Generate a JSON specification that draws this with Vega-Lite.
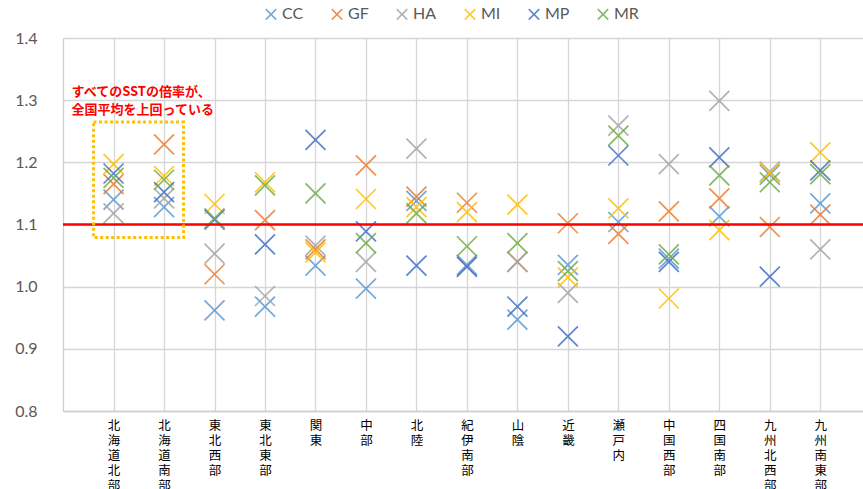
{
  "$schema": "https://vega.github.io/schema/vega-lite/v6.json",
  "width": 800,
  "height": 373,
  "autosize": {"type": "none"},
  "padding": {"left": 63, "top": 38, "right": 0, "bottom": 78},
  "background": "white",
  "config": {"view": {"stroke": null}, "font": "Lato"},
  "datasets": {
    "pts": [
      {"series": "CC", "region": "北海道北部", "v": 1.140},
      {"series": "CC", "region": "北海道南部", "v": 1.128},
      {"series": "CC", "region": "東北西部", "v": 0.962},
      {"series": "CC", "region": "東北東部", "v": 0.968},
      {"series": "CC", "region": "関東", "v": 1.034},
      {"series": "CC", "region": "中部", "v": 0.997},
      {"series": "CC", "region": "北陸", "v": 1.138},
      {"series": "CC", "region": "紀伊南部", "v": 1.035},
      {"series": "CC", "region": "山陰", "v": 0.947},
      {"series": "CC", "region": "近畿", "v": 1.035},
      {"series": "CC", "region": "瀬戸内", "v": 1.104},
      {"series": "CC", "region": "中国西部", "v": 1.045},
      {"series": "CC", "region": "四国南部", "v": 1.113},
      {"series": "CC", "region": "九州北西部", "v": 1.180},
      {"series": "CC", "region": "九州南東部", "v": 1.134},
      {"series": "GF", "region": "北海道北部", "v": 1.165},
      {"series": "GF", "region": "北海道南部", "v": 1.229},
      {"series": "GF", "region": "東北西部", "v": 1.020},
      {"series": "GF", "region": "東北東部", "v": 1.107},
      {"series": "GF", "region": "関東", "v": 1.060},
      {"series": "GF", "region": "中部", "v": 1.195},
      {"series": "GF", "region": "北陸", "v": 1.145},
      {"series": "GF", "region": "紀伊南部", "v": 1.135},
      {"series": "GF", "region": "山陰", "v": 1.040},
      {"series": "GF", "region": "近畿", "v": 1.102},
      {"series": "GF", "region": "瀬戸内", "v": 1.085},
      {"series": "GF", "region": "中国西部", "v": 1.121},
      {"series": "GF", "region": "四国南部", "v": 1.142},
      {"series": "GF", "region": "九州北西部", "v": 1.096},
      {"series": "GF", "region": "九州南東部", "v": 1.116},
      {"series": "HA", "region": "北海道北部", "v": 1.118},
      {"series": "HA", "region": "北海道南部", "v": 1.142},
      {"series": "HA", "region": "東北西部", "v": 1.053},
      {"series": "HA", "region": "東北東部", "v": 0.985},
      {"series": "HA", "region": "関東", "v": 1.066},
      {"series": "HA", "region": "中部", "v": 1.040},
      {"series": "HA", "region": "北陸", "v": 1.222},
      {"series": "HA", "region": "紀伊南部", "v": 1.032},
      {"series": "HA", "region": "山陰", "v": 1.040},
      {"series": "HA", "region": "近畿", "v": 0.990},
      {"series": "HA", "region": "瀬戸内", "v": 1.259},
      {"series": "HA", "region": "中国西部", "v": 1.197},
      {"series": "HA", "region": "四国南部", "v": 1.299},
      {"series": "HA", "region": "九州北西部", "v": 1.185},
      {"series": "HA", "region": "九州南東部", "v": 1.060},
      {"series": "MI", "region": "北海道北部", "v": 1.197},
      {"series": "MI", "region": "北海道南部", "v": 1.178},
      {"series": "MI", "region": "東北西部", "v": 1.133},
      {"series": "MI", "region": "東北東部", "v": 1.168},
      {"series": "MI", "region": "関東", "v": 1.055},
      {"series": "MI", "region": "中部", "v": 1.141},
      {"series": "MI", "region": "北陸", "v": 1.128},
      {"series": "MI", "region": "紀伊南部", "v": 1.120},
      {"series": "MI", "region": "山陰", "v": 1.132},
      {"series": "MI", "region": "近畿", "v": 1.015},
      {"series": "MI", "region": "瀬戸内", "v": 1.126},
      {"series": "MI", "region": "中国西部", "v": 0.981},
      {"series": "MI", "region": "四国南部", "v": 1.091},
      {"series": "MI", "region": "九州北西部", "v": 1.183},
      {"series": "MI", "region": "九州南東部", "v": 1.216},
      {"series": "MP", "region": "北海道北部", "v": 1.182},
      {"series": "MP", "region": "北海道南部", "v": 1.152},
      {"series": "MP", "region": "東北西部", "v": 1.108},
      {"series": "MP", "region": "東北東部", "v": 1.068},
      {"series": "MP", "region": "関東", "v": 1.236},
      {"series": "MP", "region": "中部", "v": 1.089},
      {"series": "MP", "region": "北陸", "v": 1.034},
      {"series": "MP", "region": "紀伊南部", "v": 1.032},
      {"series": "MP", "region": "山陰", "v": 0.968},
      {"series": "MP", "region": "近畿", "v": 0.920},
      {"series": "MP", "region": "瀬戸内", "v": 1.211},
      {"series": "MP", "region": "中国西部", "v": 1.040},
      {"series": "MP", "region": "四国南部", "v": 1.208},
      {"series": "MP", "region": "九州北西部", "v": 1.016},
      {"series": "MP", "region": "九州南東部", "v": 1.187},
      {"series": "MR", "region": "北海道北部", "v": 1.175},
      {"series": "MR", "region": "北海道南部", "v": 1.172},
      {"series": "MR", "region": "東北西部", "v": 1.110},
      {"series": "MR", "region": "東北東部", "v": 1.163},
      {"series": "MR", "region": "関東", "v": 1.150},
      {"series": "MR", "region": "中部", "v": 1.070},
      {"series": "MR", "region": "北陸", "v": 1.118},
      {"series": "MR", "region": "紀伊南部", "v": 1.065},
      {"series": "MR", "region": "山陰", "v": 1.070},
      {"series": "MR", "region": "近畿", "v": 1.025},
      {"series": "MR", "region": "瀬戸内", "v": 1.243},
      {"series": "MR", "region": "中国西部", "v": 1.052},
      {"series": "MR", "region": "四国南部", "v": 1.179},
      {"series": "MR", "region": "九州北西部", "v": 1.168},
      {"series": "MR", "region": "九州南東部", "v": 1.181}
    ],
    "avg": [{"ref": 1.1}],
    "box": [{"from": "北海道北部", "to": "北海道南部", "lo": 1.079, "hi": 1.265}],
    "note": [
      {"region": "北海道北部", "v": 1.313, "label": "すべてのSSTの倍率が、"},
      {"region": "北海道北部", "v": 1.284, "label": "全国平均を上回っている"}
    ]
  },
  "layer": [
    {
      "data": {"name": "pts"},
      "mark": {"type": "point", "shape": "M-1,-1L1,1M-1,1L1,-1", "filled": false, "size": 400, "strokeWidth": 1.7, "opacity": 0.85},
      "encoding": {
        "x": {
          "field": "region", "type": "nominal", "sort": null,
          "scale": {"type": "point", "domain": ["北海道北部", "北海道南部", "東北西部", "東北東部", "関東", "中部", "北陸", "紀伊南部", "山陰", "近畿", "瀬戸内", "中国西部", "四国南部", "九州北西部", "九州南東部"], "padding": 0.924, "align": 0.542},
          "axis": {
            "title": null, "grid": true, "gridColor": "#d6d6d6", "gridWidth": 1.3,
            "domain": true, "domainColor": "#cfcfcf", "domainWidth": 1.3, "ticks": false,
            "labelExpr": "split(datum.label, '')", "labelAngle": 0, "labelBaseline": "top", "labelAlign": "center",
            "labelLineHeight": 15, "labelFontSize": 12.5, "labelFont": "Noto Sans CJK JP", "labelColor": "#000000",
            "labelPadding": 8, "labelOverlap": false
          }
        },
        "y": {
          "field": "v", "type": "quantitative",
          "scale": {"domain": [0.8, 1.4], "nice": false, "zero": false},
          "axis": {
            "title": null, "values": [0.8, 0.9, 1.0, 1.1, 1.2, 1.3, 1.4], "format": ".1f",
            "grid": true, "gridColor": "#d6d6d6", "gridWidth": 1.3,
            "domain": true, "domainColor": "#cfcfcf", "domainWidth": 1.3, "ticks": false,
            "labelFontSize": 16, "labelFont": "Lato", "labelColor": "#595959", "labelPadding": 26
          }
        },
        "color": {
          "field": "series", "type": "nominal",
          "scale": {"domain": ["CC", "GF", "HA", "MI", "MP", "MR"], "range": ["#5B9BD5", "#ED7D31", "#A5A5A5", "#FFC000", "#4472C4", "#70AD47"]},
          "legend": {
            "title": null, "orient": "none", "direction": "horizontal", "legendX": 200, "legendY": -32,
            "symbolType": "M-1,-1L1,1M-1,1L1,-1", "symbolSize": 110, "symbolStrokeWidth": 1.5,
            "labelFontSize": 16, "labelFont": "Lato", "labelColor": "#595959", "labelOffset": 3, "columnPadding": 24
          }
        }
      }
    },
    {
      "data": {"name": "avg"},
      "mark": {"type": "rule", "color": "#FF0000", "strokeWidth": 2.5},
      "encoding": {"y": {"field": "ref", "type": "quantitative", "title": null}}
    },
    {
      "data": {"name": "box"},
      "mark": {"type": "rect", "fill": null, "fillOpacity": 0, "stroke": "#FFC000", "strokeWidth": 3, "strokeDash": [3, 2.5], "xOffset": -20, "x2Offset": 19.5},
      "encoding": {
        "x": {"field": "from", "type": "nominal", "title": null},
        "x2": {"field": "to"},
        "y": {"field": "lo", "type": "quantitative", "title": null},
        "y2": {"field": "hi"}
      }
    },
    {
      "data": {"name": "note"},
      "mark": {"type": "text", "align": "left", "baseline": "middle", "dx": -42, "font": "Noto Sans CJK JP", "fontSize": 13, "fontWeight": "bold", "color": "#FF0000"},
      "encoding": {
        "x": {"field": "region", "type": "nominal", "title": null},
        "y": {"field": "v", "type": "quantitative", "title": null},
        "text": {"field": "label"}
      }
    }
  ]
}
